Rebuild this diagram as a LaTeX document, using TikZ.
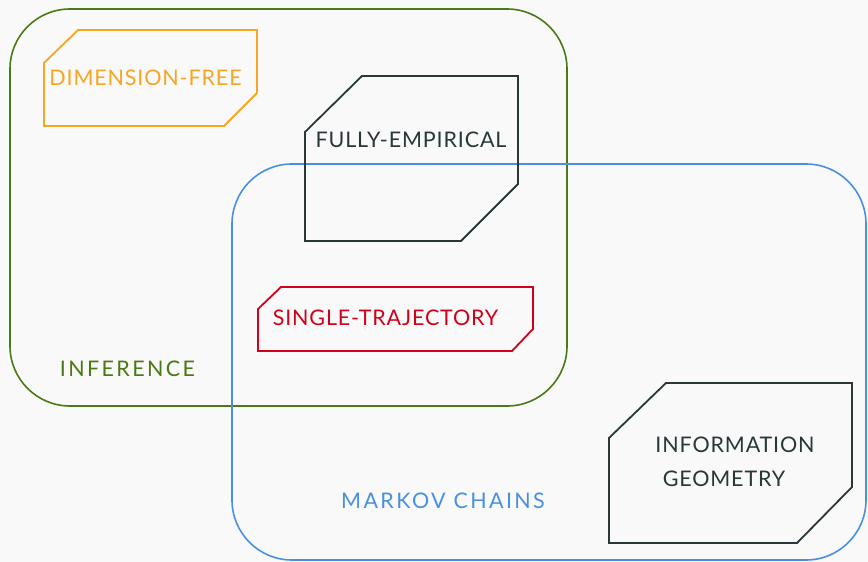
\documentclass[tikz,border=0pt]{standalone}
\usepackage{fontspec}
\setmainfont[LetterSpace=4]{Lato}
\definecolor{bgc}{RGB}{249,249,249}
\definecolor{cgreen}{RGB}{75,122,20}
\definecolor{cblue}{RGB}{74,144,226}
\definecolor{corange}{RGB}{245,166,35}
\definecolor{cred}{RGB}{208,2,27}
\definecolor{cdark}{RGB}{40,56,56}
\tikzset{
  region/.style={line width=1.6pt, rounded corners=60pt},
  tagbox/.style={line width=1.8pt},
  lbl/.style={font=\fontsize{21.5}{25}\selectfont, inner sep=0pt, anchor=center},
  widelbl/.style={lbl, font=\fontsize{21.5}{25}\selectfont\addfontfeature{LetterSpace=11}}
}
\begin{document}
\begin{tikzpicture}[x=1pt,y=-1pt]
\fill[bgc] (0,0) rectangle (868,562);
% regions
\draw[region, cgreen] (10,9) rectangle (567,406);
\draw[region, cblue] (232,164) rectangle (866,560);
% dimension-free
\draw[tagbox, corange] (78,30) -- (257,30) -- (257,93) -- (224,126) -- (44,126) -- (44,63) -- cycle;
\node[lbl, text=corange] (dimfree) at (145.5,78) {DIMENSION-FREE};
% fully-empirical
\draw[tagbox, cdark] (362,76) -- (518,76) -- (518,184) -- (461,241) -- (305,241) -- (305,132) -- cycle;
\node[lbl, text=cdark] (fullyemp) at (411,140) {FULLY-EMPIRICAL};
% single-trajectory
\draw[tagbox, cred] (281,287) -- (533,287) -- (533,329) -- (512,351) -- (258,351) -- (258,309) -- cycle;
\node[lbl, text=cred] (singletraj) at (385.5,318) {SINGLE-TRAJECTORY};
% information geometry
\draw[tagbox, cdark] (666,383) -- (852,383) -- (852,487) -- (797,543) -- (609,543) -- (609,438) -- cycle;
\node[lbl, text=cdark] (infogeo) at (735,445) {INFORMATION};
\node[lbl, text=cdark] (infogeob) at (724,479) {GEOMETRY};
% region labels
\node[widelbl, text=cgreen] (inference) at (127.5,369) {INFERENCE};
\node[widelbl, text=cblue] (markov) at (443,501) {MARKOV CHAINS};
\end{tikzpicture}
\end{document}
